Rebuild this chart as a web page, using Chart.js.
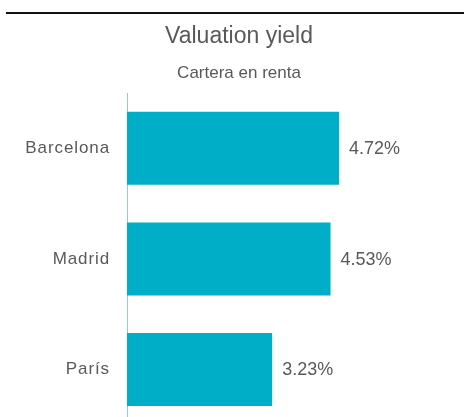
<!DOCTYPE html>
<html>
<head>
<meta charset="utf-8">
<script src="https://cdn.jsdelivr.net/npm/chart.js@4/dist/chart.umd.min.js"></script>
<style>
  body { margin: 0; overflow: hidden; background: #fff; }
  .topline { position: absolute; top: 12px; left: 6px; right: 0; height: 2px; background: #111; }
  #wrap { position: absolute; top: 0; left: 0; }
</style>
</head>
<body>
<div class="topline"></div>
<div id="wrap"><canvas id="myChart" width="464" height="452"></canvas></div>
<script>
var cities = ["Barcelona", "Madrid", "París"];
var yieldValues = [4.72, 4.53, 3.23];

// value label at the end of each bar
var barValueLabels = {
  id: "barValueLabels",
  afterDatasetsDraw: function (chart) {
    var ctx = chart.ctx;
    var meta = chart.getDatasetMeta(0);
    ctx.save();
    ctx.font = "18px 'Liberation Sans', Arial, sans-serif";
    ctx.fillStyle = "#595959";
    ctx.textAlign = "left";
    ctx.textBaseline = "middle";
    meta.data.forEach(function (bar, i) {
      ctx.fillText(yieldValues[i].toFixed(2) + "%", bar.x + 10, bar.y + 1);
    });
    ctx.restore();
  },
};

var ctx = document.getElementById("myChart").getContext("2d");
var myChart = new Chart(ctx, {
  type: "bar",
  data: {
    labels: cities,
    datasets: [
      {
        data: yieldValues,
        backgroundColor: "#00AEC8",
        borderWidth: 0,
        barPercentage: 0.66,
        categoryPercentage: 1,
      },
    ],
  },
  options: {
    indexAxis: "y",
    responsive: false,
    animation: false,
    layout: {
      padding: { left: 14, right: 0, top: 0, bottom: 0 },
    },
    plugins: {
      legend: { display: false },
      tooltip: { enabled: false },
      title: {
        display: true,
        text: "Valuation yield",
        color: "#595959",
        font: { family: "'Liberation Sans', Arial, sans-serif", size: 23, weight: "normal" },
        padding: { top: 23, bottom: 0 },
      },
      subtitle: {
        display: true,
        text: "Cartera en renta",
        color: "#595959",
        font: { family: "'Liberation Sans', Arial, sans-serif", size: 17, weight: "normal" },
        padding: { top: 13, bottom: 9 },
      },
    },
    scales: {
      x: {
        display: false,
        min: 0,
        max: 7.5,
      },
      y: {
        afterFit: function (scale) {
          scale.width = 113;
          // category labels are drawn a bit spaced out in the original
          if (!scale._spacedLabels) {
            var drawLabels = scale.drawLabels;
            scale.drawLabels = function (area) {
              this.ctx.save();
              this.ctx.letterSpacing = "0.9px";
              drawLabels.call(this, area);
              this.ctx.restore();
            };
            scale._spacedLabels = true;
          }
        },
        grid: { display: false, drawTicks: false },
        border: { display: true, color: "#8CCBE0", width: 1 },
        ticks: {
          color: "#595959",
          padding: 17,
          font: { family: "'Liberation Sans', Arial, sans-serif", size: 17 },
        },
      },
    },
  },
  plugins: [barValueLabels],
});
</script>
</body>
</html>
